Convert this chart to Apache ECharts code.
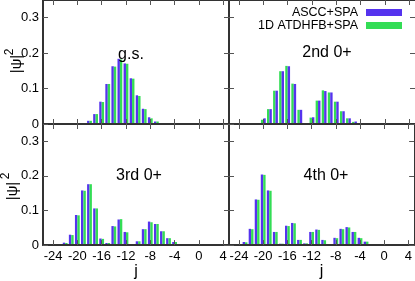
<!DOCTYPE html>
<html><head><meta charset="utf-8">
<script src="https://cdn.jsdelivr.net/npm/echarts@6/dist/echarts.min.js"></script>
<style>html,body{margin:0;padding:0;background:#fff}#c{width:415px;height:281px}</style>
</head><body><div id="c"></div>
<script>
// ---------- data ----------
const seriesNames = ['ASCC+SPA', '1D ATDHFB+SPA'];
const panelLabels = ['g.s.', '2nd 0+', '3rd 0+', '4th 0+'];
const xTickValues = [-24, -20, -16, -12, -8, -4, 0, 4];
const yTickValues = [0, 0.1, 0.2, 0.3];

const jGs = [-19, -18, -17, -16, -15, -14, -13, -12, -11, -10, -9, -8, -7, -6];
const asccGs = [0.002, 0.009, 0.028, 0.063, 0.113, 0.163, 0.184, 0.171, 0.129, 0.081, 0.043, 0.019, 0.007, 0.002];
const atdhfbGs = [0.001, 0.009, 0.028, 0.062, 0.113, 0.162, 0.182, 0.170, 0.128, 0.079, 0.042, 0.016, 0.007, 0.002];

const j2nd = [-21, -20, -19, -18, -17, -16, -15, -14, -13, -12, -11, -10, -9, -8, -7, -6, -5, -4];
const ascc2nd = [0.002, 0.016, 0.042, 0.094, 0.149, 0.163, 0.113, 0.040, 0.001, 0.019, 0.066, 0.093, 0.089, 0.063, 0.036, 0.016, 0.007, 0.001];
const atdhfb2nd = [0.001, 0.012, 0.042, 0.094, 0.149, 0.164, 0.114, 0.040, 0.001, 0.018, 0.066, 0.095, 0.089, 0.063, 0.036, 0.016, 0.006, 0.001];

const j3rd = [-22, -21, -20, -19, -18, -17, -16, -15, -14, -13, -12, -11, -10, -9, -8, -7, -6, -5, -4, -3];
const ascc3rd = [0.007, 0.030, 0.087, 0.158, 0.176, 0.106, 0.019, 0.006, 0.055, 0.074, 0.038, 0.003, 0.011, 0.046, 0.068, 0.061, 0.040, 0.020, 0.009, 0.003];
const atdhfb3rd = [0.006, 0.029, 0.086, 0.157, 0.176, 0.106, 0.018, 0.006, 0.054, 0.075, 0.037, 0.003, 0.011, 0.046, 0.066, 0.061, 0.040, 0.020, 0.009, 0.003];

const j4th = [-23, -22, -21, -20, -19, -18, -17, -16, -15, -14, -13, -12, -11, -10, -9, -8, -7, -6, -5, -4, -3, -2];
const ascc4th = [0.009, 0.047, 0.132, 0.204, 0.158, 0.038, 0.004, 0.056, 0.064, 0.015, 0.005, 0.038, 0.045, 0.015, 0.000, 0.021, 0.047, 0.052, 0.038, 0.021, 0.010, 0.003];
const atdhfb4th = [0.008, 0.046, 0.131, 0.203, 0.157, 0.038, 0.004, 0.055, 0.063, 0.015, 0.005, 0.038, 0.044, 0.014, 0.000, 0.020, 0.046, 0.051, 0.038, 0.020, 0.010, 0.003];

// ---------- build ----------
const FONT = 'Liberation Sans, Arial, sans-serif';
const colors = ['#5533ee', '#33dd55'];
const panels = [
  { j: jGs, v: [asccGs, atdhfbGs], order: [0, 1] },
  { j: j2nd, v: [ascc2nd, atdhfb2nd], order: [1, 0] },
  { j: j3rd, v: [ascc3rd, atdhfb3rd], order: [0, 1] },
  { j: j4th, v: [ascc4th, atdhfb4th], order: [0, 1] }
];
const grids = [
  { left: 43, top: 0, width: 186, height: 124 },
  { left: 229, top: 0, width: 186, height: 124 },
  { left: 43, top: 124, width: 186, height: 123 },
  { left: 229, top: 124, width: 186, height: 123 }
];
const XMIN = -25.65, XMAX = 4.95, YMIN = 0, YMAX = 0.35;
const axisColor = '#333', tickColor = '#555';

const xAxes = [], yAxes = [], series = [];
for (let g = 0; g < 4; g++) {
  const bottomRow = g >= 2, leftCol = g % 2 === 0;
  xAxes.push({
    gridIndex: g, type: 'value', min: XMIN, max: XMAX, position: 'bottom', z: 4,
    axisLine: { show: true, onZero: false, lineStyle: { color: axisColor, width: 2 } },
    axisTick: { show: true, inside: true, length: 5, customValues: xTickValues, lineStyle: { color: tickColor, width: 1 } },
    axisLabel: { show: bottomRow, customValues: xTickValues, margin: 5, fontSize: 13, color: '#000', fontFamily: FONT },
    splitLine: { show: false },
    name: bottomRow ? 'j' : '', nameLocation: 'middle', nameGap: 17,
    nameTextStyle: { fontSize: 16, color: '#000', fontFamily: FONT }
  });
  yAxes.push({
    gridIndex: g, type: 'value', min: YMIN, max: YMAX, position: 'left', z: 4,
    axisLine: { show: true, onZero: false, lineStyle: { color: axisColor, width: 2 } },
    axisTick: { show: true, inside: true, length: 5, customValues: yTickValues, lineStyle: { color: tickColor, width: 1 } },
    axisLabel: { show: leftCol, customValues: yTickValues, margin: 4, fontSize: 13, color: '#000', fontFamily: FONT },
    splitLine: { show: false }
  });
  const p = panels[g];
  p.order.forEach(k => {
    series.push({
      type: 'bar', name: seriesNames[k], xAxisIndex: g, yAxisIndex: g,
      data: p.j.map((x, i) => [x, p.v[k][i]]),
      barWidth: 2.4, barGap: '0%',
      itemStyle: { color: colors[k] },
      emphasis: { disabled: true }, silent: true
    });
  });
}
for (let g = 0; g < 4; g++) {
  xAxes.push({
    gridIndex: g, type: 'value', min: XMIN, max: XMAX, position: 'top', z: 4,
    axisLine: { show: true, onZero: false, lineStyle: { color: axisColor, width: 1 } },
    axisTick: { show: true, inside: true, length: 5, customValues: xTickValues, lineStyle: { color: tickColor, width: 1 } },
    axisLabel: { show: false }, splitLine: { show: false }
  });
  yAxes.push({
    gridIndex: g, type: 'value', min: YMIN, max: YMAX, position: 'right', z: 4,
    axisLine: { show: true, onZero: false, lineStyle: { color: axisColor, width: 1 } },
    axisTick: { show: true, inside: true, length: 5, customValues: yTickValues, lineStyle: { color: tickColor, width: 1 } },
    axisLabel: { show: false }, splitLine: { show: false }
  });
}

const labelPos = [[131, 55], [327, 53], [139, 176], [326, 176]];
const graphics = panelLabels.map((t, i) => ({
  type: 'text', x: labelPos[i][0], y: labelPos[i][1], z: 10,
  style: { text: t, fontSize: 16, fill: '#000', fontFamily: FONT, align: 'center', verticalAlign: 'middle' }
}));
const psiPos = [[{ x: 17, y: 64 }, { x: 10, y: 52 }], [{ x: 13, y: 191 }, { x: 6, y: 176 }]];
psiPos.forEach(([a, b]) => {
  graphics.push({ type: 'text', x: a.x, y: a.y, rotation: Math.PI / 2, z: 10,
    style: { text: '|ψ|', fontSize: 15, fill: '#000', fontFamily: FONT, align: 'center', verticalAlign: 'middle' } });
  graphics.push({ type: 'text', x: b.x, y: b.y, rotation: Math.PI / 2, z: 10,
    style: { text: '2', fontSize: 12, fill: '#000', fontFamily: FONT, align: 'center', verticalAlign: 'middle' } });
});

const chart = echarts.init(document.getElementById('c'), null, { renderer: 'canvas' });
chart.setOption({
  animation: false,
  backgroundColor: '#fff',
  grid: grids,
  xAxis: xAxes,
  yAxis: yAxes,
  series: series,
  legend: {
    data: seriesNames, orient: 'vertical', align: 'right', right: 13, top: 6,
    itemWidth: 36, itemHeight: 7, itemGap: 0, icon: 'rect', padding: 0,
    selectedMode: false,
    textStyle: { fontSize: 12.5, color: '#000', fontFamily: FONT, lineHeight: 13, padding: [0, 3, 0, 0] }
  },
  graphic: graphics
});
</script></body></html>
